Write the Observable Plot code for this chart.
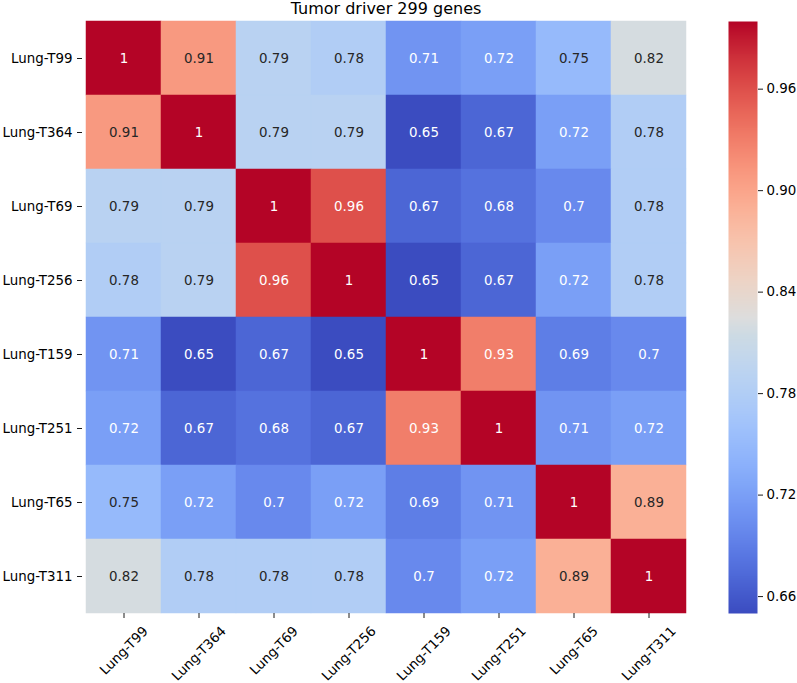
<!DOCTYPE html>
<html>
<head>
<meta charset="utf-8">
<script src="https://cdn.jsdelivr.net/npm/d3@7"></script>
<script src="https://cdn.jsdelivr.net/npm/@observablehq/plot@0.6"></script>
<style>
  html, body { margin: 0; padding: 0; background: #fff; }
  #wrap { position: relative; width: 797px; height: 683px; font-family: "DejaVu Sans", sans-serif; }
  #wrap svg { position: absolute; top: 0; font-family: "DejaVu Sans", sans-serif; }
</style>
</head>
<body>
<div id="wrap"></div>
<script>
// ---- data ----
const title = "Tumor driver 299 genes";
const samples = ["Lung-T99", "Lung-T364", "Lung-T69", "Lung-T256", "Lung-T159", "Lung-T251", "Lung-T65", "Lung-T311"];
const rowT99  = [1,    0.91, 0.79, 0.78, 0.71, 0.72, 0.75, 0.82];
const rowT364 = [0.91, 1,    0.79, 0.79, 0.65, 0.67, 0.72, 0.78];
const rowT69  = [0.79, 0.79, 1,    0.96, 0.67, 0.68, 0.7,  0.78];
const rowT256 = [0.78, 0.79, 0.96, 1,    0.65, 0.67, 0.72, 0.78];
const rowT159 = [0.71, 0.65, 0.67, 0.65, 1,    0.93, 0.69, 0.7];
const rowT251 = [0.72, 0.67, 0.68, 0.67, 0.93, 1,    0.71, 0.72];
const rowT65  = [0.75, 0.72, 0.7,  0.72, 0.69, 0.71, 1,    0.89];
const rowT311 = [0.82, 0.78, 0.78, 0.78, 0.7,  0.72, 0.89, 1];
const colorbarTicks = [0.66, 0.72, 0.78, 0.84, 0.90, 0.96];
const colorDomain = [0.65, 1.0];

const matrix = [rowT99, rowT364, rowT69, rowT256, rowT159, rowT251, rowT65, rowT311];
const cells = samples.flatMap((r, i) => matrix[i].map((v, j) => ({row: r, col: samples[j], value: v})));

// matplotlib "coolwarm" control points
const coolwarmStops = [
  [0.2298,0.2987,0.7537],[0.2667,0.3529,0.8016],[0.3045,0.4066,0.8443],[0.3431,0.4594,0.8815],
  [0.3826,0.5105,0.9132],[0.4226,0.5595,0.9393],[0.4630,0.6058,0.9595],[0.5034,0.6491,0.9739],
  [0.5436,0.6889,0.9831],[0.5835,0.7251,0.9862],[0.6226,0.7573,0.9837],[0.6611,0.7855,0.9757],
  [0.6984,0.8094,0.9625],[0.7342,0.8287,0.9444],[0.7685,0.8434,0.9219],[0.8008,0.8532,0.8956],
  [0.8650,0.8650,0.8650],[0.8981,0.8481,0.8161],[0.9276,0.8273,0.7738],[0.9503,0.8007,0.7291],
  [0.9667,0.7682,0.6825],[0.9770,0.7302,0.6344],[0.9812,0.6872,0.5858],[0.9794,0.6394,0.5373],
  [0.9717,0.5870,0.4890],[0.9581,0.5305,0.4417],[0.9389,0.4702,0.3960],[0.9141,0.4061,0.3517],
  [0.8836,0.3385,0.3091],[0.8475,0.2669,0.2684],[0.8062,0.1915,0.2297],[0.7597,0.1117,0.1928],
  [0.7057,0.0156,0.1502]
].map(([r,g,b]) => d3.rgb(r*255, g*255, b*255).formatHex());
const coolwarm = d3.piecewise(d3.interpolateRgb, coolwarmStops);
const colorOf = v => coolwarm((v - colorDomain[0]) / (colorDomain[1] - colorDomain[0]));

function luminance(c) {
  const rgb = d3.rgb(c);
  const lin = x => { x /= 255; return x <= 0.03928 ? x / 12.92 : Math.pow((x + 0.055) / 1.055, 2.4); };
  return 0.2126 * lin(rgb.r) + 0.7152 * lin(rgb.g) + 0.0722 * lin(rgb.b);
}
const textColor = d => luminance(colorOf(d.value)) > 0.408 ? "#262626" : "#ffffff";
const fmt = d3.format(".2~g");

const W = 797, H = 683;
const mL = 82, mR = 108, mT = 21, mB = 70;
const FS = 13.4;

// measure label widths to mimic matplotlib centered rotated labels
const ctx = document.createElement("canvas").getContext("2d");
ctx.font = `${FS}px "DejaVu Sans"`;
const lineH = FS * 1.164;

const xLabelMarks = samples.map(s => {
  const w = ctx.measureText(s).width;
  const dx = 0.7071 * (w - lineH) / 2 + 0.7071 * lineH / 2;
  return Plot.text([s], {
    x: d => d, frameAnchor: "bottom", rotate: -45, textAnchor: "end", lineAnchor: "middle",
    dx: dx, dy: 10 + 0.7071 * lineH / 2, fontSize: FS, fill: "black"
  });
});

const heat = Plot.plot({
  width: W, height: H,
  marginLeft: mL, marginRight: mR, marginTop: mT, marginBottom: mB,
  style: {fontFamily: "DejaVu Sans", fontSize: FS + "px", background: "transparent"},
  x: {type: "band", domain: samples, padding: 0, axis: null},
  y: {type: "band", domain: samples, padding: 0, axis: null},
  color: {type: "linear", domain: colorDomain, interpolate: coolwarm},
  marks: [
    Plot.cell(cells, {x: "col", y: "row", fill: "value", inset: 0, stroke: "value", strokeWidth: 0.5}),
    Plot.text(cells, {x: "col", y: "row", text: d => fmt(d.value), fill: textColor, fontSize: FS}),
    Plot.axisY({tickSize: 5, tickPadding: 5, fontSize: FS, label: null, color: "black", strokeWidth: 0.9}),
    Plot.axisX({tickSize: 5, tickFormat: () => "", label: null, color: "black", strokeWidth: 0.9}),
    ...xLabelMarks,
    Plot.text([title], {frameAnchor: "top", dy: -13, fontSize: 16, fill: "black", lineAnchor: "middle"})
  ]
});
heat.style.left = "0px";

const cbLeft = 700;
const colorbar = Plot.plot({
  width: 97, height: H,
  marginLeft: 728 - cbLeft, marginRight: 97 - (757 - cbLeft), marginTop: mT, marginBottom: mB,
  style: {fontFamily: "DejaVu Sans", fontSize: FS + "px", background: "transparent"},
  x: {domain: [0, 1], axis: null},
  y: {domain: colorDomain, axis: null},
  color: {type: "linear", domain: colorDomain, interpolate: coolwarm},
  marks: [
    Plot.raster({x1: 0, x2: 1, y1: colorDomain[0], y2: colorDomain[1], width: 1, height: 600, fill: (x, y) => y}),
    Plot.axisY(colorbarTicks, {anchor: "right", tickSize: 5, tickPadding: 4, tickFormat: d3.format(".2f"), fontSize: FS, label: null, color: "black", strokeWidth: 0.9})
  ]
});
colorbar.style.left = cbLeft + "px";

const wrap = document.getElementById("wrap");
wrap.appendChild(heat);
wrap.appendChild(colorbar);
</script>
</body>
</html>
